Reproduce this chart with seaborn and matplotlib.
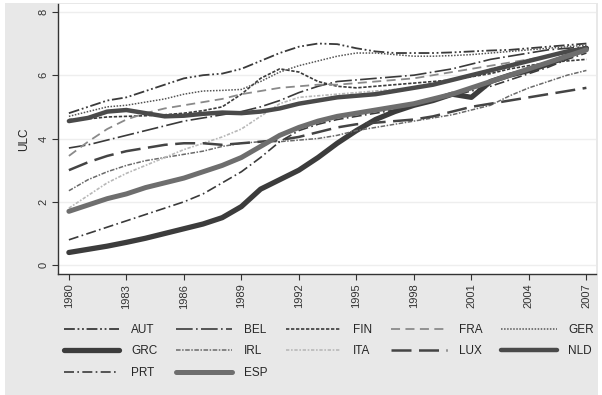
import matplotlib
matplotlib.use("Agg")
import matplotlib.pyplot as plt
import matplotlib.patches as mpatches
import seaborn as sns
import pandas as pd

years = list(range(1980, 2008))

aut = [4.8, 5.0, 5.2, 5.3, 5.5, 5.7, 5.9, 6.0, 6.05, 6.2, 6.45, 6.7, 6.9, 7.0,
       6.98, 6.85, 6.75, 6.7, 6.7, 6.7, 6.72, 6.75, 6.78, 6.8, 6.85, 6.9, 6.95, 7.0]
bel = [3.7, 3.8, 3.95, 4.1, 4.25, 4.4, 4.55, 4.65, 4.75, 4.85, 5.0, 5.2, 5.45, 5.65,
       5.8, 5.85, 5.9, 5.95, 6.0, 6.1, 6.2, 6.35, 6.5, 6.6, 6.7, 6.8, 6.85, 6.9]
fin = [4.6, 4.62, 4.68, 4.7, 4.72, 4.75, 4.8, 4.88, 5.0, 5.4, 5.9, 6.2, 6.1, 5.8,
       5.65, 5.6, 5.65, 5.7, 5.75, 5.8, 5.85, 5.95, 6.05, 6.2, 6.3, 6.4, 6.45, 6.5]
fra = [3.45, 3.9, 4.3, 4.6, 4.8, 4.95, 5.05, 5.15, 5.25, 5.4, 5.5, 5.6, 5.65, 5.7,
       5.7, 5.75, 5.8, 5.85, 5.9, 6.0, 6.1, 6.2, 6.3, 6.4, 6.5, 6.6, 6.7, 6.75]
ger = [4.7, 4.85, 5.0, 5.05, 5.15, 5.25, 5.4, 5.5, 5.52, 5.55, 5.8, 6.1, 6.3, 6.45,
       6.6, 6.7, 6.7, 6.65, 6.6, 6.6, 6.62, 6.65, 6.7, 6.75, 6.8, 6.85, 6.9, 6.95]
grc = [0.4, 0.5, 0.6, 0.72, 0.85, 1.0, 1.15, 1.3, 1.5, 1.85, 2.4, 2.7, 3.0, 3.4,
       3.85, 4.25, 4.6, 4.85, 5.05, 5.2, 5.4, 5.3, 5.8, 6.0, 6.15, 6.35, 6.6, 6.85]
irl = [2.35, 2.7, 2.95, 3.15, 3.3, 3.4, 3.5, 3.6, 3.75, 3.85, 3.9, 3.9, 3.95, 4.0,
       4.1, 4.25, 4.35, 4.45, 4.55, 4.65, 4.75, 4.9, 5.05, 5.35, 5.6, 5.8, 6.0, 6.15]
ita = [1.8, 2.2, 2.6, 2.9, 3.15, 3.4, 3.65, 3.85, 4.05, 4.3, 4.7, 5.1, 5.3, 5.35,
       5.4, 5.45, 5.5, 5.55, 5.6, 5.7, 5.85, 6.0, 6.2, 6.35, 6.5, 6.6, 6.7, 6.8]
lux = [3.0, 3.25, 3.45, 3.6, 3.7, 3.8, 3.85, 3.85, 3.8, 3.85, 3.9, 3.95, 4.05, 4.2,
       4.35, 4.45, 4.5, 4.55, 4.6, 4.7, 4.85, 5.0, 5.1, 5.2, 5.3, 5.4, 5.5, 5.6]
nld = [4.55, 4.65, 4.85, 4.9, 4.8, 4.7, 4.72, 4.78, 4.82, 4.8, 4.85, 4.95, 5.1, 5.2,
       5.3, 5.35, 5.4, 5.5, 5.6, 5.7, 5.85, 6.0, 6.15, 6.3, 6.45, 6.6, 6.75, 6.85]
prt = [0.8, 1.0, 1.2, 1.4, 1.6, 1.8, 2.0, 2.25, 2.6, 2.95, 3.4, 3.9, 4.25, 4.45,
       4.6, 4.7, 4.8, 4.9, 5.05, 5.2, 5.35, 5.5, 5.65, 5.85, 6.05, 6.25, 6.5, 6.7]
esp = [1.7, 1.9, 2.1, 2.25, 2.45, 2.6, 2.75, 2.95, 3.15, 3.4, 3.75, 4.1, 4.35, 4.55,
       4.7, 4.8, 4.9, 5.0, 5.1, 5.25, 5.4, 5.6, 5.8, 6.0, 6.2, 6.4, 6.6, 6.8]

countries = ["AUT", "BEL", "FIN", "FRA", "GER", "GRC", "IRL", "ITA", "LUX", "NLD", "PRT", "ESP"]
series = [aut, bel, fin, fra, ger, grc, irl, ita, lux, nld, prt, esp]
xticks = list(range(1980, 2008, 3))
yticks = [0, 2, 4, 6, 8]

# estilo de cada linha: cor, espessura, tracejado
estilos = {
    "AUT": ("#3a3a3a", 1.3, (0, (6, 1.5, 1, 1.5, 1, 1.5))),
    "BEL": ("#3a3a3a", 1.2, (0, (10, 2, 1, 2))),
    "FIN": ("#3a3a3a", 1.2, (0, (2, 1))),
    "FRA": ("#8a8a8a", 1.3, (0, (5, 3))),
    "GER": ("#555555", 1.1, (0, (1, 1))),
    "GRC": ("#3c3c3c", 3.8, "-"),
    "IRL": ("#6a6a6a", 1.1, (0, (3, 1, 1, 1))),
    "ITA": ("#b8b8b8", 1.2, (0, (2, 1, 1, 1))),
    "LUX": ("#444444", 1.8, (0, (8, 3))),
    "NLD": ("#4a4a4a", 3.2, "-"),
    "PRT": ("#3a3a3a", 1.2, (0, (6, 2, 1, 2))),
    "ESP": ("#6e6e6e", 3.6, "-"),
}

df = pd.DataFrame({"ano": years})
for nome, valores in zip(countries, series):
    df[nome] = valores

sns.set_style("white")
plt.rcParams["font.family"] = ["Liberation Sans", "DejaVu Sans"]

fig = plt.figure(figsize=(6.02, 3.95), dpi=100, facecolor="white")
fig.patches.append(mpatches.Rectangle((0.009, 0.0), 0.984, 0.992, transform=fig.transFigure,
                                      facecolor="#e8e8e8", edgecolor="none", zorder=-10))
ax = fig.add_axes([0.0963, 0.3063, 0.8937, 0.6837])
ax.set_facecolor("white")

for nome in countries:
    cor, lw, ls = estilos[nome]
    sns.lineplot(data=df, x="ano", y=nome, ax=ax, color=cor, linewidth=lw,
                 linestyle=ls, label=nome, legend=False)

ax.set_xlim(1979.43, 2007.5)
ax.set_ylim(-0.28, 8.25)
ax.set_xticks(xticks)
ax.set_yticks(yticks)
ax.set_xticklabels([str(x) for x in xticks], rotation=90, fontsize=8, color="#333333")
ax.set_yticklabels([str(y) for y in yticks], rotation=90, fontsize=8, color="#333333",
                   va="center")
ax.tick_params(axis="both", length=4, width=0.8, color="#333333", pad=3)
ax.tick_params(axis="both", which="both", direction="out", bottom=True, left=True)
ax.set_xlabel("")
ax.set_ylabel("ULC", fontsize=8.5, color="#222222", labelpad=6)
ax.grid(axis="y", color="#eeeeee", linewidth=1)
ax.grid(axis="x", visible=False)
for lado in ["top", "right"]:
    ax.spines[lado].set_visible(False)
for lado in ["left", "bottom"]:
    ax.spines[lado].set_color("#333333")
    ax.spines[lado].set_linewidth(1.0)

# legenda em ordem por linhas (matplotlib preenche por colunas)
handles, labels = ax.get_legend_handles_labels()
ordem = ["AUT", "GRC", "PRT", "BEL", "IRL", "ESP", "FIN", "ITA", "FRA", "LUX", "GER", "NLD"]
mapa = dict(zip(labels, handles))
fig.legend([mapa[n] for n in ordem], ordem, loc="upper left", bbox_to_anchor=(0.106, 0.18),
           ncol=5, frameon=False, fontsize=8.5, handlelength=4.7, handletextpad=1.0,
           columnspacing=1.6, labelspacing=0.8, borderpad=0, borderaxespad=0)

plt.savefig("out.png", dpi=100, facecolor=fig.get_facecolor())
plt.close()
